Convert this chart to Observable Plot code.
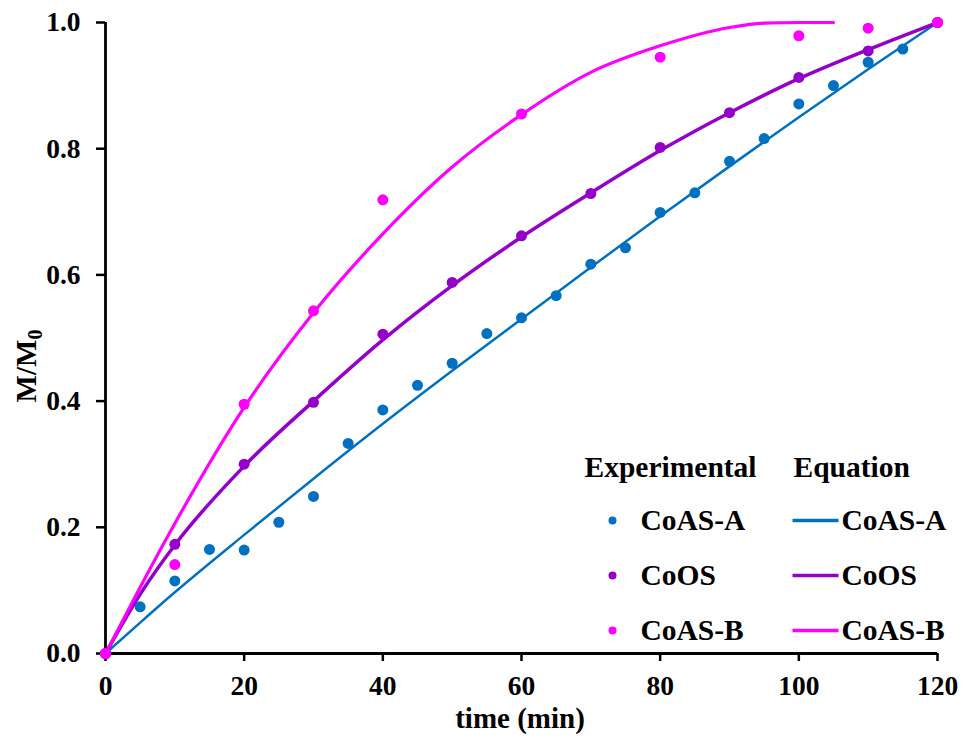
<!DOCTYPE html>
<html>
<head>
<meta charset="utf-8">
<script src="https://cdn.jsdelivr.net/npm/d3@7"></script>
<script src="https://cdn.jsdelivr.net/npm/@observablehq/plot@0.6"></script>
<style>
  html, body { margin: 0; padding: 0; background: #fff; }
  #chart { width: 964px; height: 743px; }
</style>
</head>
<body>
<div id="chart"></div>
<script>
// Release profiles M/M0 versus time for three samples.

// Series names and colours
const seriesNames = ["CoAS-A", "CoOS", "CoAS-B"];
const seriesColors = ["#0070C0", "#9400C8", "#FF00FF"];

// Experimental points
const timeA = [0, 5, 10, 15, 20, 25, 30, 35, 40, 45, 50, 55, 60, 65, 70, 75, 80, 85, 90, 95, 100, 105, 110, 115, 120];
const expA  = [0, 0.074, 0.115, 0.165, 0.164, 0.208, 0.249, 0.333, 0.386, 0.425, 0.460, 0.507, 0.532, 0.567, 0.617, 0.643, 0.699, 0.730, 0.780, 0.816, 0.871, 0.900, 0.937, 0.958, 1.0];

const timeOS = [0, 10, 20, 30, 40, 50, 60, 70, 80, 90, 100, 110, 120];
const expOS  = [0, 0.173, 0.300, 0.398, 0.506, 0.588, 0.662, 0.729, 0.802, 0.857, 0.913, 0.955, 1.0];

const timeB = [0, 10, 20, 30, 40, 60, 80, 100, 110, 120];
const expB  = [0, 0.141, 0.395, 0.543, 0.719, 0.855, 0.945, 0.979, 0.991, 1.0];

// Equation curves
const fitTime = [0, 5, 10, 20, 30, 40, 50, 60, 70, 80, 90, 100, 110, 120];
const eqA  = [0, 0.049, 0.097, 0.188, 0.277, 0.364, 0.448, 0.530, 0.612, 0.693, 0.772, 0.850, 0.926, 1.0];
const eqOS = [0, 0.094, 0.172, 0.297, 0.400, 0.497, 0.583, 0.660, 0.730, 0.797, 0.857, 0.911, 0.957, 1.0];

const fitTimeB = [0, 5, 10, 20, 30, 40, 50, 60, 70, 80, 90, 95, 100, 105];
const eqB      = [0, 0.105, 0.206, 0.390, 0.540, 0.665, 0.771, 0.854, 0.921, 0.963, 0.992, 0.999, 1.0, 1.0];

// Axis ticks
const xTicks = [0, 20, 40, 60, 80, 100, 120];
const yTicks = [0, 0.2, 0.4, 0.6, 0.8, 1.0];

// Tidy tables
const toRows = (name, ts, vs) => ts.map((t, i) => ({series: name, t, v: vs[i]}));
const points = [
  ...toRows("CoAS-A", timeA, expA),
  ...toRows("CoOS", timeOS, expOS),
  ...toRows("CoAS-B", timeB, expB)
];
const curves = [
  ...toRows("CoAS-A", fitTime, eqA),
  ...toRows("CoOS", fitTime, eqOS),
  ...toRows("CoAS-B", fitTimeB, eqB)
];
const lineWidths = {"CoAS-A": 2.5, "CoOS": 3.5, "CoAS-B": 3.2};

// Frame geometry
const W = 964, H = 743, mL = 105, mR = 27, mT = 22, mB = 90;
const xMax = 120, yMax = 1;
const xAt = px => (px - mL) / (W - mL - mR) * xMax;
const yAt = py => (H - mB - py) / (H - mB - mT) * yMax;

// Legend layout (pixel positions inside the frame)
const legendRowsY = [520, 575, 630];
const legendRows = seriesNames.map((name, i) => ({
  name, color: seriesColors[i], y: yAt(legendRowsY[i])
}));
const legendHeaders = [
  {label: "Experimental", x: xAt(584), y: yAt(467)},
  {label: "Equation", x: xAt(793), y: yAt(467)}
];

const font = "'Liberation Serif', 'Times New Roman', serif";
const colorScale = {domain: seriesNames, range: seriesColors};

const chart = Plot.plot({
  width: W,
  height: H,
  marginLeft: mL,
  marginRight: mR,
  marginTop: mT,
  marginBottom: mB,
  style: {fontFamily: font, fontWeight: "bold", color: "#000", background: "#fff"},
  x: {domain: [0, xMax]},
  y: {domain: [0, yMax]},
  color: colorScale,
  marks: [
    Plot.axisX({ticks: xTicks, tickSize: 8, tickPadding: 14, fontSize: 27.5, strokeWidth: 2.5, label: null, tickFormat: d3.format("d")}),
    Plot.axisY({ticks: yTicks, tickSize: 9, tickPadding: 16, fontSize: 27.5, strokeWidth: 2.5, label: null, tickFormat: d3.format(".1f")}),
    Plot.ruleY([0], {stroke: "#000", strokeWidth: 2.8}),
    Plot.ruleX([0], {stroke: "#000", strokeWidth: 2.8}),
    ...seriesNames.map(name =>
      Plot.line(curves.filter(d => d.series === name), {
        x: "t", y: "v", stroke: "series", strokeWidth: lineWidths[name], curve: "monotone-x"
      })
    ),
    Plot.dot(points, {x: "t", y: "v", fill: "series", r: 5.5}),
    // Legend
    Plot.text(legendHeaders, {x: "x", y: "y", text: "label", textAnchor: "start", fontSize: 29.5, fontWeight: "bold", fill: "#000"}),
    Plot.dot(legendRows, {x: xAt(612), y: "y", fill: "color", r: 4}),
    Plot.text(legendRows, {x: xAt(640), y: "y", text: "name", textAnchor: "start", fontSize: 29.5, fontWeight: "bold", fill: "#000"}),
    Plot.link(legendRows, {x1: xAt(792), x2: xAt(838), y1: "y", y2: "y", stroke: "color", strokeWidth: 3.5}),
    Plot.text(legendRows, {x: xAt(841), y: "y", text: "name", textAnchor: "start", fontSize: 29.5, fontWeight: "bold", fill: "#000"})
  ]
});

// Axis titles
const svg = d3.select(chart);
svg.append("text")
  .attr("x", 520).attr("y", 728)
  .attr("text-anchor", "middle")
  .attr("font-size", 29).attr("font-weight", "bold").attr("font-family", font)
  .attr("fill", "#000")
  .text("time (min)");

const yTitle = svg.append("text")
  .attr("transform", "translate(36,366) rotate(-90)")
  .attr("text-anchor", "middle")
  .attr("font-size", 29).attr("font-weight", "bold").attr("font-family", font)
  .attr("fill", "#000");
yTitle.append("tspan").text("M/M");
yTitle.append("tspan").attr("font-size", 20).attr("dy", "0.3em").text("0");

document.getElementById("chart").appendChild(chart);
</script>
</body>
</html>
